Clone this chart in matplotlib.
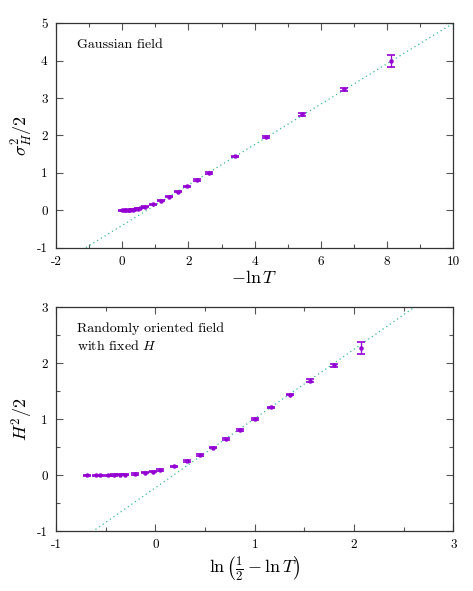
import matplotlib

matplotlib.use("Agg")
import matplotlib.pyplot as plt
import numpy as np
from matplotlib.ticker import MultipleLocator

plt.rcParams.update({
    "font.family": "serif",
    "font.serif": ["cmr10", "DejaVu Serif"],
    "mathtext.fontset": "cm",
    "axes.unicode_minus": False,
    "axes.formatter.use_mathtext": False,
})

PURPLE = "#9400d3"
GREEN = "#3cb89a"

# top panel: Gaussian field
x_top = [0.0, 0.05, 0.08, 0.12, 0.16, 0.20, 0.24, 0.32, 0.40, 0.47, 0.55, 0.70,
         0.94, 1.17, 1.40, 1.67, 1.96, 2.27, 2.61, 3.41, 4.34, 5.43, 6.70, 8.13]
y_top = [0.0, 0.0, 0.0, 0.0, 0.002, 0.004, 0.007, 0.015, 0.025, 0.04, 0.06, 0.09,
         0.16, 0.25, 0.36, 0.49, 0.64, 0.81, 1.00, 1.44, 1.96, 2.56, 3.23, 3.99]
e_top = [0.01] * 12 + [0.015, 0.015, 0.015, 0.015, 0.015, 0.02, 0.02, 0.02, 0.025, 0.03, 0.05, 0.17]
fit_top = (0.5405, -0.405)  # slope, intercept

# bottom panel: randomly oriented field with fixed H
x_bot = [-0.691, -0.600, -0.557, -0.473, -0.413, -0.356, -0.302, -0.201, -0.107, -0.027,
         0.050, 0.188, 0.322, 0.450, 0.580, 0.715, 0.849, 1.003, 1.164, 1.352, 1.557, 1.800, 2.067]
y_bot = [0.0, 0.0, 0.0, 0.0, 0.002, 0.004, 0.008, 0.02, 0.04, 0.06,
         0.09, 0.157, 0.25, 0.36, 0.49, 0.64, 0.81, 1.00, 1.21, 1.44, 1.69, 1.96, 2.27]
e_bot = [0.01] * 10 + [0.012, 0.012, 0.012, 0.012, 0.012, 0.015, 0.015, 0.015, 0.015, 0.015, 0.02, 0.03, 0.11]
fit_bot = (1.238, -0.227)

fig = plt.figure(figsize=(4.73, 5.91), dpi=100)
ax1 = fig.add_axes([0.1184, 0.581, 0.840, 0.3797])
ax2 = fig.add_axes([0.1184, 0.1015, 0.840, 0.3785])


def panel(ax, x, y, e, fit, xlim, ylim, xmaj, xmin, ymaj, ymin):
    xx = np.linspace(*xlim, 200)
    ax.plot(xx, fit[0] * xx + fit[1], ls=(0, (1, 2.5)), color=GREEN, lw=0.9)
    ax.errorbar(x, y, yerr=e, fmt="o", ms=2.2, color=PURPLE, ecolor=PURPLE,
                elinewidth=0.9, capsize=3, capthick=1.2)
    ax.set_xlim(*xlim)
    ax.set_ylim(*ylim)
    ax.xaxis.set_major_locator(MultipleLocator(xmaj))
    ax.xaxis.set_minor_locator(MultipleLocator(xmin))
    ax.yaxis.set_major_locator(MultipleLocator(ymaj))
    ax.yaxis.set_minor_locator(MultipleLocator(ymin))
    ax.tick_params(which="both", direction="in", top=True, right=True,
                   labelsize=9.5, color="#555555", width=0.8)
    ax.tick_params(which="major", length=5, pad=6)
    ax.tick_params(which="minor", length=3)
    for s in ax.spines.values():
        s.set_linewidth(0.9)
        s.set_color("#333333")


panel(ax1, x_top, y_top, e_top, fit_top, (-2, 10), (-1, 5), 2, 1, 1, 1)
panel(ax2, x_bot, y_bot, e_bot, fit_bot, (-1, 3), (-1, 3), 1, 0.5, 1, 0.5)

ax1.set_xlabel(r"$-\ln T$", fontsize=13, labelpad=1)
ax1.set_ylabel(r"$\sigma_H^2/2$", fontsize=13, labelpad=1)
ax1.text(0.052, 0.905, "Gaussian field", transform=ax1.transAxes, fontsize=10,
         va="center", ha="left")

ax2.set_xlabel(r"$\ln\left(\frac{1}{2}-\ln T\right)$", fontsize=13, labelpad=2)
ax2.set_ylabel(r"$H^2/2$", fontsize=13, labelpad=1)
ax2.text(0.052, 0.905, "Randomly oriented field", transform=ax2.transAxes,
         fontsize=10, va="center", ha="left")
ax2.text(0.052, 0.825, r"with fixed $H$", transform=ax2.transAxes,
         fontsize=10, va="center", ha="left")

fig.savefig("out.png", dpi=100)
